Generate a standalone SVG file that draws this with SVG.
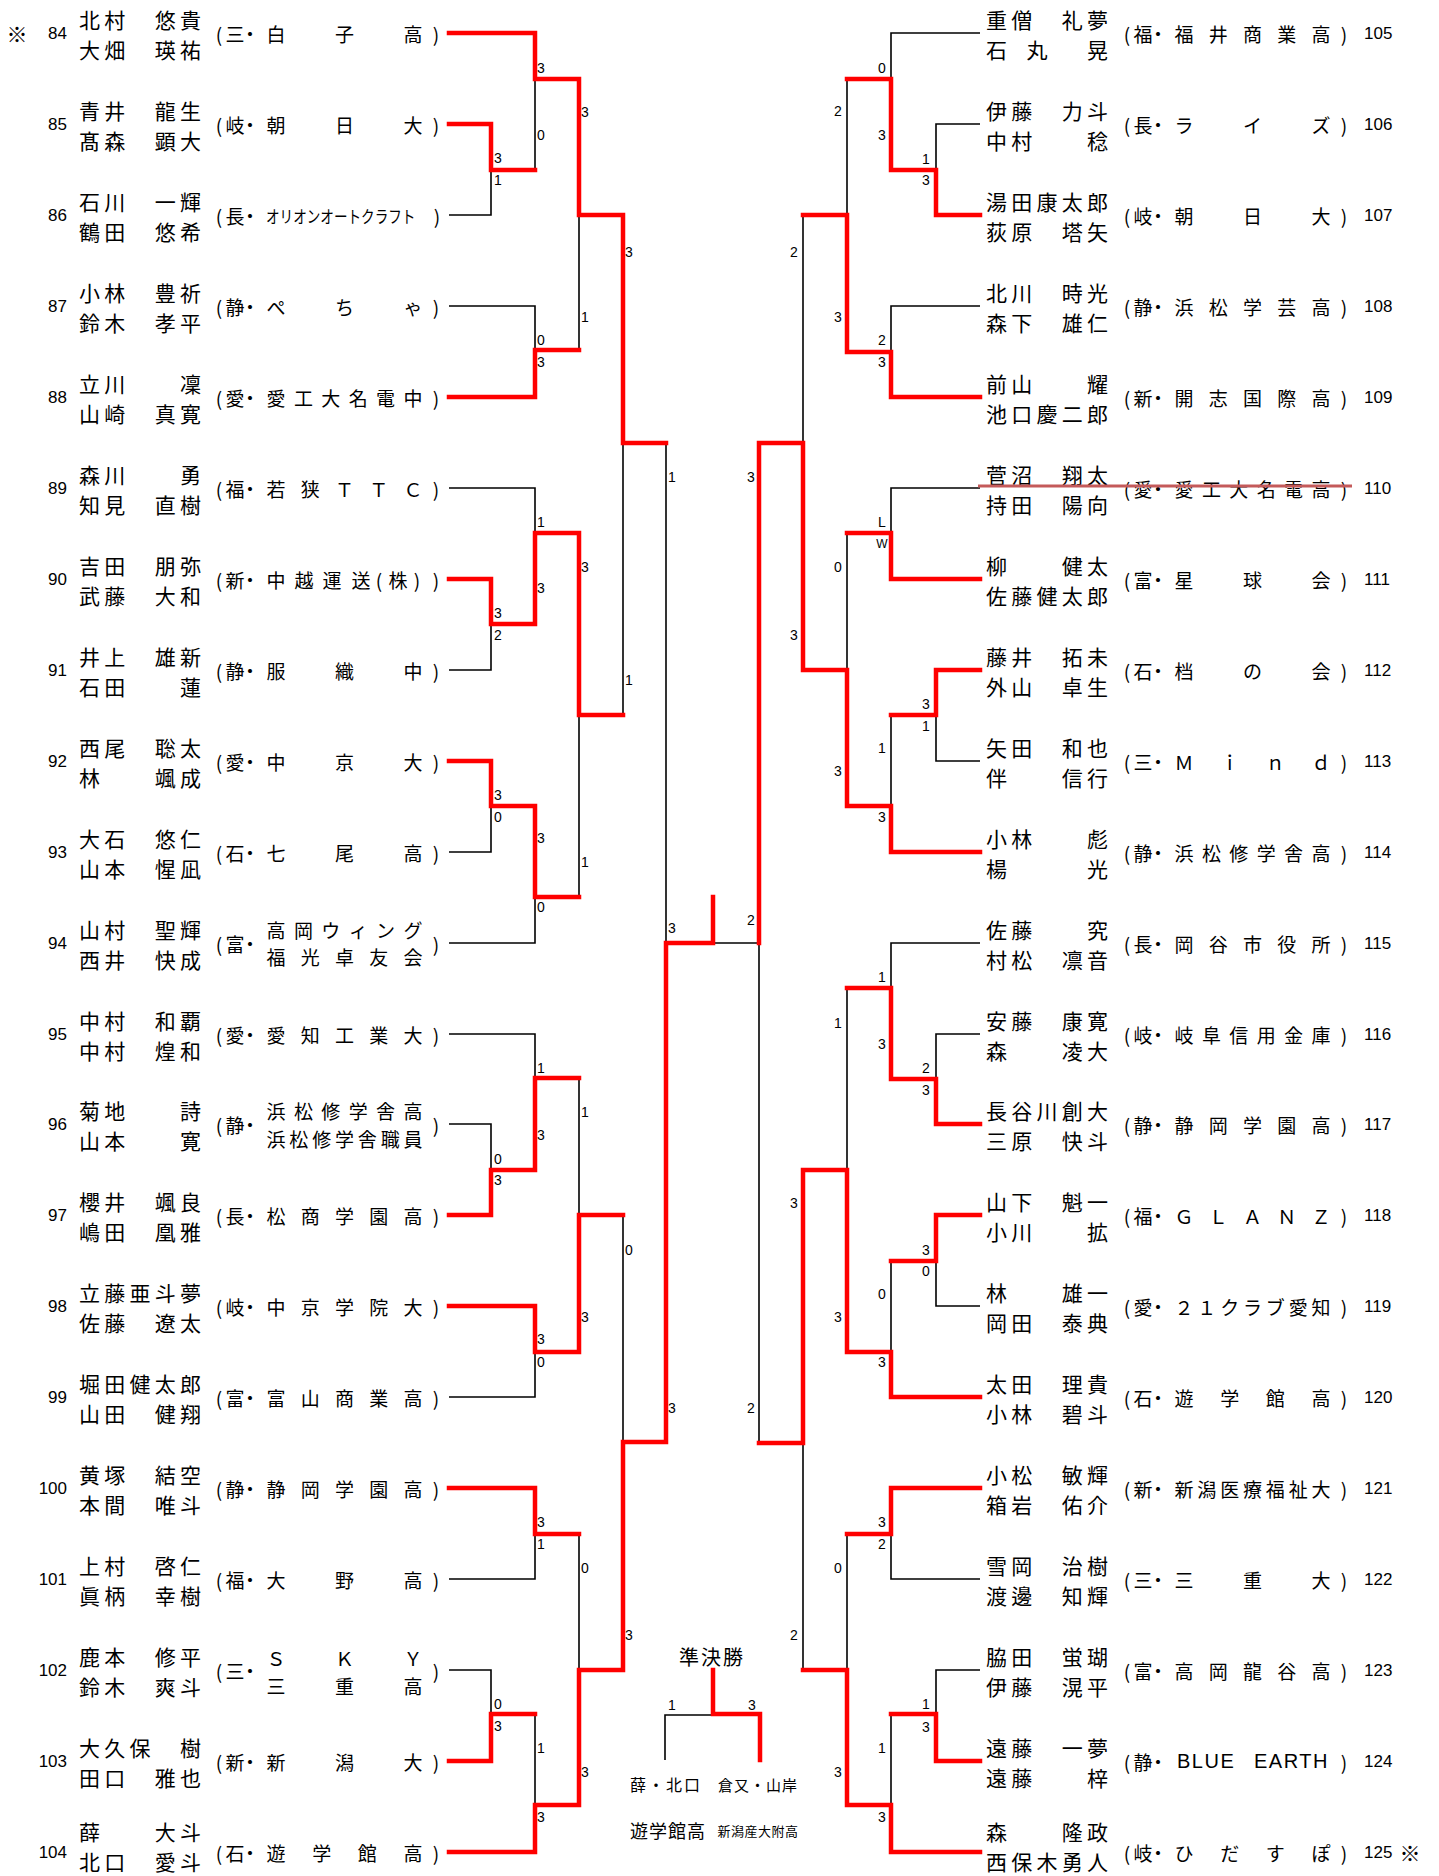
<svg xmlns="http://www.w3.org/2000/svg" width="1439" height="1876" viewBox="0 0 1439 1876">
<style>
text{font-family:"Noto Sans CJK JP","Noto Sans CJK SC",sans-serif;dominant-baseline:central;fill:#000}
.nm{font-size:21px;text-anchor:middle}
.sc{font-size:19px;text-anchor:middle}
.no{font-family:"Liberation Sans",Arial,sans-serif;font-size:17px}
.nl{text-anchor:end}
.pt{font-family:"Liberation Sans",Arial,sans-serif;font-size:14px;text-anchor:middle}
.r{fill:none;stroke:#ff0000;stroke-width:4.5;stroke-linecap:square}
.k{fill:none;stroke:#000;stroke-width:1.6}
</style>
<rect width="1439" height="1876" fill="#fff"/>

<g id="connectors">
<g class="k">
<path d="M449,215H491V170"/><path d="M535,170V79"/><path d="M449,306H535V350"/><path d="M579,350V215"/>
<path d="M623,715V443"/><path d="M449,488H535V533"/><path d="M449,670H491V624"/><path d="M449,852H491V806"/>
<path d="M449,943H535V897"/><path d="M579,897V715"/><path d="M666,443V943"/><path d="M449,1034H535V1078"/>
<path d="M449,1124H491V1170"/><path d="M579,1078V1215"/><path d="M449,1397H535V1352"/><path d="M623,1215V1442"/>
<path d="M449,1579H535V1534"/><path d="M579,1534V1670"/><path d="M449,1670H491V1714"/><path d="M535,1714V1805"/>
<path d="M713,943H759"/>
<path d="M980,33H891V79"/><path d="M980,124H936V170"/><path d="M847,79V215"/><path d="M980,306H891V352"/>
<path d="M803,215V443"/><path d="M980,488H891V533"/><path d="M847,533V670"/><path d="M980,761H936V715"/>
<path d="M891,715V806"/><path d="M980,943H891V988"/><path d="M980,1034H936V1079"/><path d="M847,988V1170"/>
<path d="M980,1306H936V1261"/><path d="M891,1261V1352"/><path d="M759,943V1443"/><path d="M980,1579H891V1534"/>
<path d="M847,1534V1670"/><path d="M980,1670H936V1714"/><path d="M891,1714V1805"/><path d="M803,1670V1443"/>
</g>
<g class="r">
<path d="M449,33H535V79H579V215H623V443H666"/>
<path d="M449,124H491V170H535"/>
<path d="M449,397H535V350H579"/>
<path d="M449,579H491V624H535V533H579V715H623"/>
<path d="M449,761H491V806H535V897H579"/>
<path d="M449,1215H491V1170H535V1078H579"/>
<path d="M449,1306H535V1352H579V1215H623"/>
<path d="M449,1488H535V1534H579"/>
<path d="M449,1761H491V1714H535"/>
<path d="M449,1852H535V1805H579V1670H623V1442H666V943H713V897"/>
<path d="M980,215H936V170H891V79H847"/>
<path d="M980,397H891V352H847V215H803"/>
<path d="M980,579H891V533H847"/>
<path d="M980,670H936V715H891"/>
<path d="M980,852H891V806H847V670H803V443H759V943"/>
<path d="M980,1124H936V1079H891V988H847"/>
<path d="M980,1215H936V1261H891"/>
<path d="M980,1397H891V1352H847V1170H803V1443H759"/>
<path d="M980,1488H891V1534H847"/>
<path d="M980,1761H936V1714H891"/>
<path d="M980,1852H891V1805H847V1670H803"/>
</g>
</g>

<g id="scores">
<text class="pt" x="541" y="68">3</text><text class="pt" x="541" y="135">0</text>
<text class="pt" x="498" y="158">3</text><text class="pt" x="498" y="180">1</text>
<text class="pt" x="585" y="112">3</text><text class="pt" x="541" y="340">0</text>
<text class="pt" x="541" y="362">3</text><text class="pt" x="585" y="317">1</text>
<text class="pt" x="629" y="252">3</text><text class="pt" x="629" y="680">1</text>
<text class="pt" x="541" y="522">1</text><text class="pt" x="541" y="588">3</text>
<text class="pt" x="498" y="613">3</text><text class="pt" x="498" y="635">2</text>
<text class="pt" x="498" y="795">3</text><text class="pt" x="498" y="817">0</text>
<text class="pt" x="541" y="838">3</text><text class="pt" x="541" y="907">0</text>
<text class="pt" x="585" y="567">3</text><text class="pt" x="585" y="862">1</text>
<text class="pt" x="672" y="477">1</text><text class="pt" x="672" y="928">3</text>
<text class="pt" x="672" y="1408">3</text>
<text class="pt" x="541" y="1068">1</text><text class="pt" x="541" y="1135">3</text>
<text class="pt" x="498" y="1159">0</text><text class="pt" x="498" y="1180">3</text>
<text class="pt" x="585" y="1112">1</text><text class="pt" x="541" y="1339">3</text>
<text class="pt" x="541" y="1362">0</text><text class="pt" x="585" y="1317">3</text>
<text class="pt" x="629" y="1250">0</text><text class="pt" x="629" y="1635">3</text>
<text class="pt" x="541" y="1522">3</text><text class="pt" x="541" y="1544">1</text>
<text class="pt" x="585" y="1568">0</text><text class="pt" x="585" y="1772">3</text>
<text class="pt" x="498" y="1704">0</text><text class="pt" x="498" y="1726">3</text>
<text class="pt" x="541" y="1748">1</text><text class="pt" x="541" y="1817">3</text>

<text class="pt" x="882" y="68">0</text><text class="pt" x="838" y="111">2</text>
<text class="pt" x="882" y="135">3</text><text class="pt" x="926" y="159">1</text>
<text class="pt" x="926" y="180">3</text><text class="pt" x="794" y="252">2</text>
<text class="pt" x="838" y="317">3</text><text class="pt" x="882" y="340">2</text>
<text class="pt" x="882" y="362">3</text><text class="pt" x="751" y="477">3</text>
<text class="pt" x="882" y="522">L</text><text class="pt" x="882" y="544" style="font-size:12px">W</text>
<text class="pt" x="838" y="567">0</text><text class="pt" x="794" y="635">3</text>
<text class="pt" x="926" y="704">3</text><text class="pt" x="926" y="726">1</text>
<text class="pt" x="882" y="748">1</text><text class="pt" x="838" y="771">3</text>
<text class="pt" x="882" y="817">3</text><text class="pt" x="751" y="920">2</text>
<text class="pt" x="882" y="977">1</text><text class="pt" x="838" y="1023">1</text>
<text class="pt" x="882" y="1044">3</text><text class="pt" x="926" y="1068">2</text>
<text class="pt" x="926" y="1090">3</text><text class="pt" x="794" y="1203">3</text>
<text class="pt" x="926" y="1250">3</text><text class="pt" x="926" y="1271">0</text>
<text class="pt" x="882" y="1294">0</text><text class="pt" x="838" y="1317">3</text>
<text class="pt" x="882" y="1362">3</text><text class="pt" x="751" y="1408">2</text>
<text class="pt" x="882" y="1522">3</text><text class="pt" x="882" y="1544">2</text>
<text class="pt" x="838" y="1568">0</text><text class="pt" x="794" y="1635">2</text>
<text class="pt" x="926" y="1704">1</text><text class="pt" x="926" y="1727">3</text>
<text class="pt" x="882" y="1748">1</text><text class="pt" x="838" y="1772">3</text>
<text class="pt" x="882" y="1817">3</text>
</g>

<text class="sc" x="17" y="33" style="font-size:21px">※</text>
<text class="sc" x="1410" y="1852" style="font-size:21px">※</text>

<g id="p84"><text class="no nl" x="67" y="33">84</text>
<text class="nm" x="89.6 114.8 165.2 190.4" y="19">北村悠貴</text><text class="nm" x="89.6 114.8 165.2 190.4" y="49">大畑瑛祐</text>
<text class="sc" x="219 235 250 276 344.5 413 436" y="33">(三・白子高)</text></g>
<g id="p85"><text class="no nl" x="67" y="124">85</text>
<text class="nm" x="89.6 114.8 165.2 190.4" y="110">青井龍生</text><text class="nm" x="89.6 114.8 165.2 190.4" y="140">髙森顕大</text>
<text class="sc" x="219 235 250 276 344.5 413 436" y="124">(岐・朝日大)</text></g>
<g id="p86"><text class="no nl" x="67" y="215">86</text>
<text class="nm" x="89.6 114.8 165.2 190.4" y="201">石川一輝</text><text class="nm" x="89.6 114.8 165.2 190.4" y="231">鶴田悠希</text>
<text class="sc" x="219 235 250" y="215">(長・</text><text transform="translate(266,215) scale(0.8,1)" x="0" y="0" style="font-size:17px">オリオンオートクラフト</text><text class="sc" x="437" y="215">)</text></g>
<g id="p87"><text class="no nl" x="67" y="306">87</text>
<text class="nm" x="89.6 114.8 165.2 190.4" y="292">小林豊祈</text><text class="nm" x="89.6 114.8 165.2 190.4" y="322">鈴木孝平</text>
<text class="sc" x="219 235 250 276 344.5 413 436" y="306">(静・ぺちゃ)</text></g>
<g id="p88"><text class="no nl" x="67" y="397">88</text>
<text class="nm" x="89.6 114.8 190.4" y="383">立川凜</text><text class="nm" x="89.6 114.8 165.2 190.4" y="413">山崎真寛</text>
<text class="sc" x="219 235 250 276 303.4 330.8 358.2 385.6 413 436" y="397">(愛・愛工大名電中)</text></g>
<g id="p89"><text class="no nl" x="67" y="488">89</text>
<text class="nm" x="89.6 114.8 190.4" y="474">森川勇</text><text class="nm" x="89.6 114.8 165.2 190.4" y="504">知見直樹</text>
<text class="sc" x="219 235 250 276 310.3 344.5 378.8 413 436" y="488">(福・若狭ＴＴＣ)</text></g>
<g id="p90"><text class="no nl" x="67" y="579">90</text>
<text class="nm" x="89.6 114.8 165.2 190.4" y="565">吉田朋弥</text><text class="nm" x="89.6 114.8 165.2 190.4" y="595">武藤大和</text>
<text class="sc" x="219 235 250 276 304 332 361 379 398 417 436" y="579">(新・中越運送(株))</text></g>
<g id="p91"><text class="no nl" x="67" y="670">91</text>
<text class="nm" x="89.6 114.8 165.2 190.4" y="656">井上雄新</text><text class="nm" x="89.6 114.8 190.4" y="686">石田蓮</text>
<text class="sc" x="219 235 250 276 344.5 413 436" y="670">(静・服織中)</text></g>
<g id="p92"><text class="no nl" x="67" y="761">92</text>
<text class="nm" x="89.6 114.8 165.2 190.4" y="747">西尾聡太</text><text class="nm" x="89.6 165.2 190.4" y="777">林颯成</text>
<text class="sc" x="219 235 250 276 344.5 413 436" y="761">(愛・中京大)</text></g>
<g id="p93"><text class="no nl" x="67" y="852">93</text>
<text class="nm" x="89.6 114.8 165.2 190.4" y="838">大石悠仁</text><text class="nm" x="89.6 114.8 165.2 190.4" y="868">山本惺凪</text>
<text class="sc" x="219 235 250 276 344.5 413 436" y="852">(石・七尾高)</text></g>
<g id="p94"><text class="no nl" x="67" y="943">94</text>
<text class="nm" x="89.6 114.8 165.2 190.4" y="929">山村聖輝</text><text class="nm" x="89.6 114.8 165.2 190.4" y="959">西井快成</text>
<text class="sc" x="219 235 250" y="943">(富・</text><text class="sc" x="436" y="943">)</text>
<text class="sc" x="276 303.4 330.8 358.2 385.6 413" y="929">高岡ウィング</text><text class="sc" x="276 310.3 344.5 378.8 413" y="956">福光卓友会</text></g>
<g id="p95"><text class="no nl" x="67" y="1034">95</text>
<text class="nm" x="89.6 114.8 165.2 190.4" y="1020">中村和覇</text><text class="nm" x="89.6 114.8 165.2 190.4" y="1050">中村煌和</text>
<text class="sc" x="219 235 250 276 310.3 344.5 378.8 413 436" y="1034">(愛・愛知工業大)</text></g>
<g id="p96"><text class="no nl" x="67" y="1124">96</text>
<text class="nm" x="89.6 114.8 190.4" y="1110">菊地詩</text><text class="nm" x="89.6 114.8 190.4" y="1140">山本寛</text>
<text class="sc" x="219 235 250" y="1124">(静・</text><text class="sc" x="436" y="1124">)</text>
<text class="sc" x="276 303.4 330.8 358.2 385.6 413" y="1110">浜松修学舎高</text><text class="sc" x="276 298.8 321.7 344.5 367.3 390.2 413" y="1138">浜松修学舎職員</text></g>
<g id="p97"><text class="no nl" x="67" y="1215">97</text>
<text class="nm" x="89.6 114.8 165.2 190.4" y="1201">櫻井颯良</text><text class="nm" x="89.6 114.8 165.2 190.4" y="1231">嶋田凰雅</text>
<text class="sc" x="219 235 250 276 310.3 344.5 378.8 413 436" y="1215">(長・松商学園高)</text></g>
<g id="p98"><text class="no nl" x="67" y="1306">98</text>
<text class="nm" x="89.6 114.8 140 165.2 190.4" y="1292">立藤亜斗夢</text><text class="nm" x="89.6 114.8 165.2 190.4" y="1322">佐藤遼太</text>
<text class="sc" x="219 235 250 276 310.3 344.5 378.8 413 436" y="1306">(岐・中京学院大)</text></g>
<g id="p99"><text class="no nl" x="67" y="1397">99</text>
<text class="nm" x="89.6 114.8 140 165.2 190.4" y="1383">堀田健太郎</text><text class="nm" x="89.6 114.8 165.2 190.4" y="1413">山田健翔</text>
<text class="sc" x="219 235 250 276 310.3 344.5 378.8 413 436" y="1397">(富・富山商業高)</text></g>
<g id="p100"><text class="no nl" x="67" y="1488">100</text>
<text class="nm" x="89.6 114.8 165.2 190.4" y="1474">黄塚結空</text><text class="nm" x="89.6 114.8 165.2 190.4" y="1504">本間唯斗</text>
<text class="sc" x="219 235 250 276 310.3 344.5 378.8 413 436" y="1488">(静・静岡学園高)</text></g>
<g id="p101"><text class="no nl" x="67" y="1579">101</text>
<text class="nm" x="89.6 114.8 165.2 190.4" y="1565">上村啓仁</text><text class="nm" x="89.6 114.8 165.2 190.4" y="1595">眞柄幸樹</text>
<text class="sc" x="219 235 250 276 344.5 413 436" y="1579">(福・大野高)</text></g>
<g id="p102"><text class="no nl" x="67" y="1670">102</text>
<text class="nm" x="89.6 114.8 165.2 190.4" y="1656">鹿本修平</text><text class="nm" x="89.6 114.8 165.2 190.4" y="1686">鈴木爽斗</text>
<text class="sc" x="219 235 250" y="1670">(三・</text><text class="sc" x="436" y="1670">)</text>
<text class="sc" x="276 344.5 413" y="1657">ＳＫＹ</text><text class="sc" x="276 344.5 413" y="1685">三重高</text></g>
<g id="p103"><text class="no nl" x="67" y="1761">103</text>
<text class="nm" x="89.6 114.8 140 190.4" y="1747">大久保樹</text><text class="nm" x="89.6 114.8 165.2 190.4" y="1777">田口雅也</text>
<text class="sc" x="219 235 250 276 344.5 413 436" y="1761">(新・新潟大)</text></g>
<g id="p104"><text class="no nl" x="67" y="1852">104</text>
<text class="nm" x="89.6 165.2 190.4" y="1831">薛大斗</text><text class="nm" x="89.6 114.8 165.2 190.4" y="1861">北口愛斗</text>
<text class="sc" x="219 235 250 276 321.7 367.3 413 436" y="1852">(石・遊学館高)</text></g>

<g id="p105"><text class="no" x="1364" y="33">105</text>
<text class="nm" x="996.6 1021.8 1072.2 1097.4" y="19">重僧礼夢</text><text class="nm" x="996.6 1037 1097.4" y="49">石丸晃</text>
<text class="sc" x="1127 1143 1158 1184 1218.3 1252.5 1286.8 1321 1344" y="33">(福・福井商業高)</text></g>
<g id="p106"><text class="no" x="1364" y="124">106</text>
<text class="nm" x="996.6 1021.8 1072.2 1097.4" y="110">伊藤力斗</text><text class="nm" x="996.6 1021.8 1097.4" y="140">中村稔</text>
<text class="sc" x="1127 1143 1158 1184 1252.5 1321 1344" y="124">(長・ライズ)</text></g>
<g id="p107"><text class="no" x="1364" y="215">107</text>
<text class="nm" x="996.6 1021.8 1047 1072.2 1097.4" y="201">湯田康太郎</text><text class="nm" x="996.6 1021.8 1072.2 1097.4" y="231">荻原塔矢</text>
<text class="sc" x="1127 1143 1158 1184 1252.5 1321 1344" y="215">(岐・朝日大)</text></g>
<g id="p108"><text class="no" x="1364" y="306">108</text>
<text class="nm" x="996.6 1021.8 1072.2 1097.4" y="292">北川時光</text><text class="nm" x="996.6 1021.8 1072.2 1097.4" y="322">森下雄仁</text>
<text class="sc" x="1127 1143 1158 1184 1218.3 1252.5 1286.8 1321 1344" y="306">(静・浜松学芸高)</text></g>
<g id="p109"><text class="no" x="1364" y="397">109</text>
<text class="nm" x="996.6 1021.8 1097.4" y="383">前山耀</text><text class="nm" x="996.6 1021.8 1047 1072.2 1097.4" y="413">池口慶二郎</text>
<text class="sc" x="1127 1143 1158 1184 1218.3 1252.5 1286.8 1321 1344" y="397">(新・開志国際高)</text></g>
<g id="p110"><text class="no" x="1364" y="488">110</text>
<text class="nm" x="996.6 1021.8 1072.2 1097.4" y="474">菅沼翔太</text><text class="nm" x="996.6 1021.8 1072.2 1097.4" y="504">持田陽向</text>
<text class="sc" x="1127 1143 1158 1184 1211.4 1238.8 1266.2 1293.6 1321 1344" y="488">(愛・愛工大名電高)</text>
<path d="M978,486H1352" fill="none" stroke="#c45a5a" stroke-width="3"/></g>
<g id="p111"><text class="no" x="1364" y="579">111</text>
<text class="nm" x="996.6 1072.2 1097.4" y="565">柳健太</text><text class="nm" x="996.6 1021.8 1047 1072.2 1097.4" y="595">佐藤健太郎</text>
<text class="sc" x="1127 1143 1158 1184 1252.5 1321 1344" y="579">(富・星球会)</text></g>
<g id="p112"><text class="no" x="1364" y="670">112</text>
<text class="nm" x="996.6 1021.8 1072.2 1097.4" y="656">藤井拓未</text><text class="nm" x="996.6 1021.8 1072.2 1097.4" y="686">外山卓生</text>
<text class="sc" x="1127 1143 1158 1184 1252.5 1321 1344" y="670">(石・档の会)</text></g>
<g id="p113"><text class="no" x="1364" y="761">113</text>
<text class="nm" x="996.6 1021.8 1072.2 1097.4" y="747">矢田和也</text><text class="nm" x="996.6 1072.2 1097.4" y="777">伴信行</text>
<text class="sc" x="1127 1143 1158 1184 1229.7 1275.3 1321 1344" y="761">(三・Ｍｉｎｄ)</text></g>
<g id="p114"><text class="no" x="1364" y="852">114</text>
<text class="nm" x="996.6 1021.8 1097.4" y="838">小林彪</text><text class="nm" x="996.6 1097.4" y="868">楊光</text>
<text class="sc" x="1127 1143 1158 1184 1211.4 1238.8 1266.2 1293.6 1321 1344" y="852">(静・浜松修学舎高)</text></g>
<g id="p115"><text class="no" x="1364" y="943">115</text>
<text class="nm" x="996.6 1021.8 1097.4" y="929">佐藤究</text><text class="nm" x="996.6 1021.8 1072.2 1097.4" y="959">村松凛音</text>
<text class="sc" x="1127 1143 1158 1184 1218.3 1252.5 1286.8 1321 1344" y="943">(長・岡谷市役所)</text></g>
<g id="p116"><text class="no" x="1364" y="1034">116</text>
<text class="nm" x="996.6 1021.8 1072.2 1097.4" y="1020">安藤康寛</text><text class="nm" x="996.6 1072.2 1097.4" y="1050">森凌大</text>
<text class="sc" x="1127 1143 1158 1184 1211.4 1238.8 1266.2 1293.6 1321 1344" y="1034">(岐・岐阜信用金庫)</text></g>
<g id="p117"><text class="no" x="1364" y="1124">117</text>
<text class="nm" x="996.6 1021.8 1047 1072.2 1097.4" y="1110">長谷川創大</text><text class="nm" x="996.6 1021.8 1072.2 1097.4" y="1140">三原快斗</text>
<text class="sc" x="1127 1143 1158 1184 1218.3 1252.5 1286.8 1321 1344" y="1124">(静・静岡学園高)</text></g>
<g id="p118"><text class="no" x="1364" y="1215">118</text>
<text class="nm" x="996.6 1021.8 1072.2 1097.4" y="1201">山下魁一</text><text class="nm" x="996.6 1021.8 1097.4" y="1231">小川拡</text>
<text class="sc" x="1127 1143 1158 1184 1218.3 1252.5 1286.8 1321 1344" y="1215">(福・ＧＬＡＮＺ)</text></g>
<g id="p119"><text class="no" x="1364" y="1306">119</text>
<text class="nm" x="996.6 1072.2 1097.4" y="1292">林雄一</text><text class="nm" x="996.6 1021.8 1072.2 1097.4" y="1322">岡田泰典</text>
<text class="sc" x="1127 1143 1158 1184 1206.8 1229.7 1252.5 1275.3 1298.2 1321 1344" y="1306">(愛・２１クラブ愛知)</text></g>
<g id="p120"><text class="no" x="1364" y="1397">120</text>
<text class="nm" x="996.6 1021.8 1072.2 1097.4" y="1383">太田理貴</text><text class="nm" x="996.6 1021.8 1072.2 1097.4" y="1413">小林碧斗</text>
<text class="sc" x="1127 1143 1158 1184 1229.7 1275.3 1321 1344" y="1397">(石・遊学館高)</text></g>
<g id="p121"><text class="no" x="1364" y="1488">121</text>
<text class="nm" x="996.6 1021.8 1072.2 1097.4" y="1474">小松敏輝</text><text class="nm" x="996.6 1021.8 1072.2 1097.4" y="1504">箱岩佑介</text>
<text class="sc" x="1127 1143 1158 1184 1206.8 1229.7 1252.5 1275.3 1298.2 1321 1344" y="1488">(新・新潟医療福祉大)</text></g>
<g id="p122"><text class="no" x="1364" y="1579">122</text>
<text class="nm" x="996.6 1021.8 1072.2 1097.4" y="1565">雪岡治樹</text><text class="nm" x="996.6 1021.8 1072.2 1097.4" y="1595">渡邊知輝</text>
<text class="sc" x="1127 1143 1158 1184 1252.5 1321 1344" y="1579">(三・三重大)</text></g>
<g id="p123"><text class="no" x="1364" y="1670">123</text>
<text class="nm" x="996.6 1021.8 1072.2 1097.4" y="1656">脇田蛍瑚</text><text class="nm" x="996.6 1021.8 1072.2 1097.4" y="1686">伊藤滉平</text>
<text class="sc" x="1127 1143 1158 1184 1218.3 1252.5 1286.8 1321 1344" y="1670">(富・高岡龍谷高)</text></g>
<g id="p124"><text class="no" x="1364" y="1761">124</text>
<text class="nm" x="996.6 1021.8 1072.2 1097.4" y="1747">遠藤一夢</text><text class="nm" x="996.6 1021.8 1097.4" y="1777">遠藤梓</text>
<text class="sc" x="1127 1143 1158" y="1761">(静・</text>
<text x="1177" y="1761" style="font-family:'Liberation Sans',Arial,sans-serif;font-size:20px;letter-spacing:1.5px">BLUE</text>
<text x="1254" y="1761" style="font-family:'Liberation Sans',Arial,sans-serif;font-size:20px;letter-spacing:1.5px">EARTH</text>
<text class="sc" x="1344" y="1761">)</text></g>
<g id="p125"><text class="no" x="1364" y="1852">125</text>
<text class="nm" x="996.6 1072.2 1097.4" y="1831">森隆政</text><text class="nm" x="996.6 1021.8 1047 1072.2 1097.4" y="1861">西保木勇人</text>
<text class="sc" x="1127 1143 1158 1184 1229.7 1275.3 1321 1344" y="1852">(岐・ひだすぽ)</text></g>

<g id="semifinal">
<text x="712" y="1656" style="font-size:20px;text-anchor:middle;letter-spacing:2px">準決勝</text>
<path class="k" d="M665,1760V1715H713"/>
<path class="r" d="M713,1670V1714H760V1760"/>
<text class="pt" x="672" y="1705">1</text>
<text class="pt" x="752" y="1705">3</text>
<text x="666" y="1784" style="font-size:16px;text-anchor:middle;letter-spacing:2px">薛・北口</text>
<text x="758" y="1784" style="font-size:15px;text-anchor:middle;letter-spacing:1px">倉又・山岸</text>
<text x="668" y="1830" style="font-size:18px;text-anchor:middle;letter-spacing:1px">遊学館高</text>
<text x="758" y="1830" style="font-size:13px;text-anchor:middle;letter-spacing:0.5px">新潟産大附高</text>
</g>
</svg>
